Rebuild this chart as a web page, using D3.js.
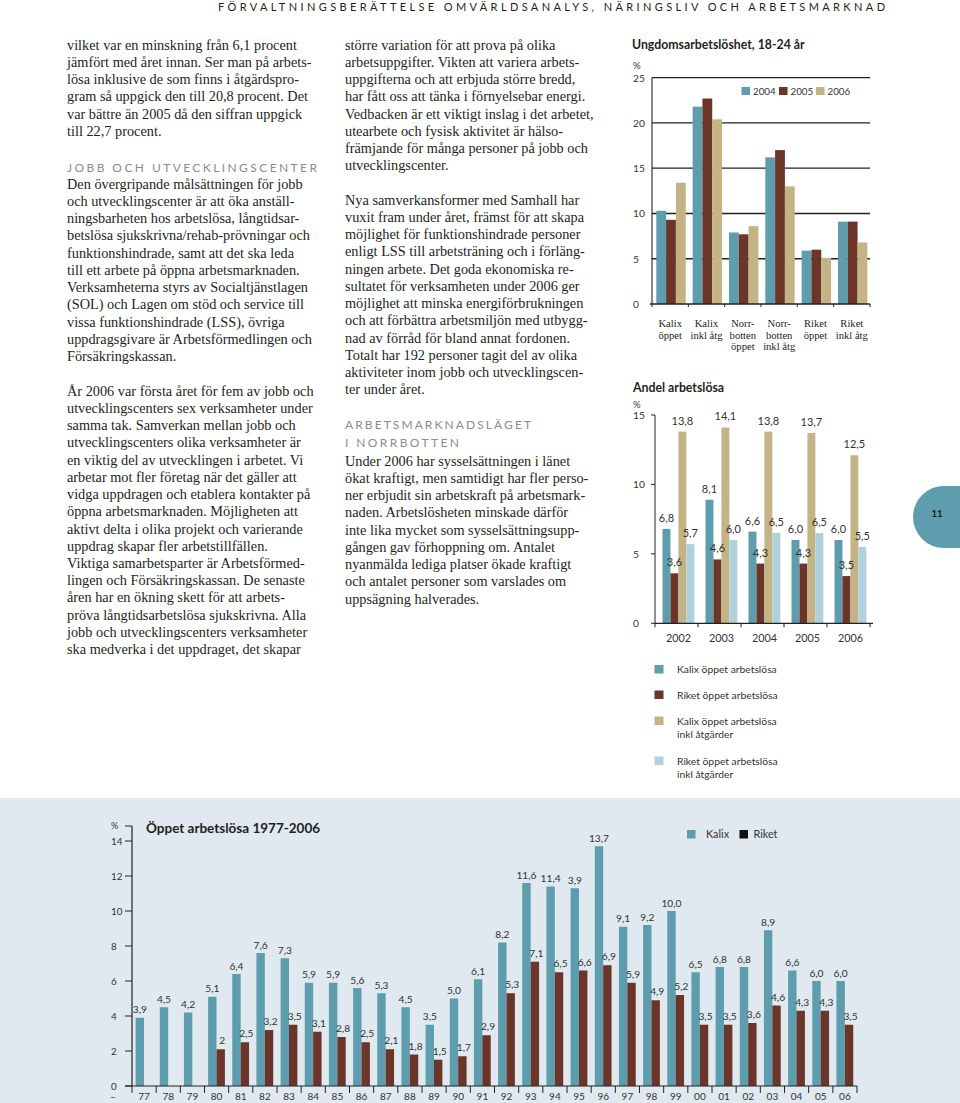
<!DOCTYPE html>
<html><head><meta charset="utf-8">
<script src="https://cdn.jsdelivr.net/npm/d3@7"></script>
<style>body{margin:0;background:#fff}svg{display:block}</style>
</head><body><svg id="c" width="960" height="1103"></svg>
<script>
// ---------- DATA ----------
const youthCats = ["Kalix öppet","Kalix inkl åtg","Norrbotten öppet","Norrbotten inkl åtg","Riket öppet","Riket inkl åtg"];
const youthCatLines = [["Kalix","öppet"],["Kalix","inkl åtg"],["Norr-","botten","öppet"],["Norr-","botten","inkl åtg"],["Riket","öppet"],["Riket","inkl åtg"]];
const youthYears = ["2004","2005","2006"];
const youth2004 = [10.3,21.8,7.9,16.2,5.9,9.1];
const youth2005 = [9.3,22.7,7.7,17.0,6.0,9.1];
const youth2006 = [13.4,20.4,8.6,13.0,5.1,6.8];
const youthTicks = [0,5,10,15,20,25];

const shareYears = ["2002","2003","2004","2005","2006"];
const kalixOpen = [6.8,8.9,6.6,6.0,6.0];
const kalixOpenLabels = ["6,8","8,1","6,6","6,0","6,0"];
const riketOpen = [3.6,4.6,4.3,4.3,3.4];
const riketOpenLabels = ["3,6","4,6","4,3","4,3","3,5"];
const kalixIncl = [13.8,14.1,13.8,13.7,12.1];
const kalixInclLabels = ["13,8","14,1","13,8","13,7","12,5"];
const riketIncl = [5.7,6.0,6.5,6.5,5.5];
const riketInclLabels = ["5,7","6,0","6,5","6,5","5,5"];
const shareTicks = [0,5,10,15];
const shareLegend = [["Kalix öppet arbetslösa"],["Riket öppet arbetslösa"],["Kalix öppet arbetslösa","inkl åtgärder"],["Riket öppet arbetslösa","inkl åtgärder"]];

const histYears = ["77","78","79","80","81","82","83","84","85","86","87","88","89","90","91","92","93","94","95","96","97","98","99","00","01","02","03","04","05","06"];
const histKalix = [3.9,4.5,4.2,5.1,6.4,7.6,7.3,5.9,5.9,5.6,5.3,4.5,3.5,5.0,6.1,8.2,11.6,11.4,11.3,13.7,9.1,9.2,10.0,6.5,6.8,6.8,8.9,6.6,6.0,6.0];
const histKalixLabels = ["3,9","4,5","4,2","5,1","6,4","7,6","7,3","5,9","5,9","5,6","5,3","4,5","3,5","5,0","6,1","8,2","11,6","11,4","3,9","13,7","9,1","9,2","10,0","6,5","6,8","6,8","8,9","6,6","6,0","6,0"];
const histRiket = [null,null,null,2.1,2.5,3.2,3.5,3.1,2.8,2.5,2.1,1.8,1.5,1.7,2.9,5.3,7.1,6.5,6.6,6.9,5.9,4.9,5.2,3.5,3.5,3.6,4.6,4.3,4.3,3.5];
const histRiketLabels = ["","","","2","2,5","3,2","3,5","3,1","2,8","2,5","2,1","1,8","1,5","1,7","2,9","5,3","7,1","6,5","6,6","6,9","5,9","4,9","5,2","3,5","3,5","3,6","4,6","4,3","4,3","3,5"];
const histTicks = [0,2,4,6,8,10,12,14];

// ---------- STYLE ----------
const C = {teal:"#5e9dad", brown:"#6c3529", tan:"#c4b384", light:"#afd1dc", text:"#231f20", axis:"#333"};
const SANS = "Lato, 'Open Sans', sans-serif";
const SERIF = "'Liberation Serif', 'DejaVu Serif', serif";

const svg = d3.select("#c");

// ---------- HEADER ----------
svg.append("text").attr("x",218).attr("y",11).attr("font-family",SANS).attr("font-size",11)
  .attr("fill",C.text).attr("textLength",667).attr("lengthAdjust","spacing")
  .text("FÖRVALTNINGSBERÄTTELSE OMVÄRLDSANALYS, NÄRINGSLIV OCH ARBETSMARKNAD");

// ---------- BODY TEXT ----------
const LH = 17.22;
const blocks = [
 {x:67,y:45,lines:["vilket var en minskning från 6,1 procent","jämfört med året innan. Ser man på arbets-","lösa inklusive de som finns i åtgärdspro-","gram så uppgick den till 20,8 procent. Det","var bättre än 2005 då den siffran uppgick","till 22,7 procent."]},
 {x:67,y:167,head:true,w:250,lines:["JOBB OCH UTVECKLINGSCENTER"]},
 {x:67,y:184,lines:["Den övergripande målsättningen för jobb","och utvecklingscenter är att öka anställ-","ningsbarheten hos arbetslösa, långtidsar-","betslösa sjukskrivna/rehab-prövningar och","funktionshindrade, samt att det ska leda","till ett arbete på öppna arbetsmarknaden.","Verksamheterna styrs av Socialtjänstlagen","(SOL) och Lagen om stöd och service till","vissa funktionshindrade (LSS), övriga","uppdragsgivare är Arbetsförmedlingen och","Försäkringskassan."]},
 {x:67,y:391,lines:["År 2006 var första året för fem av jobb och","utvecklingscenters sex verksamheter under","samma tak. Samverkan mellan jobb och","utvecklingscenters olika verksamheter är","en viktig del av utvecklingen i arbetet. Vi","arbetar mot fler företag när det gäller att","vidga uppdragen och etablera kontakter på","öppna arbetsmarknaden. Möjligheten att","aktivt delta i olika projekt och varierande","uppdrag skapar fler arbetstillfällen.","Viktiga samarbetsparter är Arbetsförmed-","lingen och Försäkringskassan. De senaste","åren har en ökning skett för att arbets-","pröva långtidsarbetslösa sjukskrivna. Alla","jobb och utvecklingscenters verksamheter","ska medverka i det uppdraget, det skapar"]},
 {x:345,y:45,lines:["större variation för att prova på olika","arbetsuppgifter. Vikten att variera arbets-","uppgifterna och att erbjuda större bredd,","har fått oss att tänka i förnyelsebar energi.","Vedbacken är ett viktigt inslag i det arbetet,","utearbete och fysisk aktivitet är hälso-","främjande för många personer på jobb och","utvecklingscenter."]},
 {x:345,y:200,lines:["Nya samverkansformer med Samhall har","vuxit fram under året, främst för att skapa","möjlighet för funktionshindrade personer","enligt LSS till arbetsträning och i förläng-","ningen arbete. Det goda ekonomiska re-","sultatet för verksamheten under 2006 ger","möjlighet att minska energiförbrukningen","och att förbättra arbetsmiljön med utbygg-","nad av förråd för bland annat fordonen.","Totalt har 192 personer tagit del av olika","aktiviteter inom jobb och utvecklingscen-","ter under året."]},
 {x:345,y:424,head:true,w:186,lines:["ARBETSMARKNADSLÄGET"]},
 {x:345,y:442,head:true,w:114,lines:["I NORRBOTTEN"]},
 {x:345,y:461,lines:["Under 2006 har sysselsättningen i länet","ökat kraftigt, men samtidigt har fler perso-","ner erbjudit sin arbetskraft på arbetsmark-","naden. Arbetslösheten minskade därför","inte lika mycket som sysselsättningsupp-","gången gav förhoppning om. Antalet","nyanmälda lediga platser ökade kraftigt","och antalet personer som varslades om","uppsägning halverades."]}
];
blocks.forEach(b=>{
  b.lines.forEach((ln,i)=>{
    const t = svg.append("text").attr("x",b.x).attr("y",b.y+i*LH+4.8).text(ln);
    if(b.head){
      t.attr("font-family",SANS).attr("font-size",12).attr("fill","#8c8c8c")
       .attr("textLength",b.w).attr("lengthAdjust","spacing");
    } else {
      t.attr("font-family",SERIF).attr("font-size",14.3).attr("fill",C.text);
      const w = t.node().getComputedTextLength();
      if (w > 254) t.attr("textLength",254).attr("lengthAdjust","spacingAndGlyphs");
    }
  });
});

// ---------- SIDE TAB ----------
svg.append("path").attr("d","M960,486 L944,486 A31,31 0 0 0 944,548 L960,548 Z").attr("fill",C.teal);
svg.append("text").attr("x",937).attr("y",517).attr("text-anchor","middle").attr("font-family",SANS)
  .attr("font-weight","bold").attr("font-size",9.5).attr("fill","#1a1a1a").text("11");

// ---------- CHART 1: Ungdomsarbetslöshet ----------
{
  const g = svg.append("g");
  g.append("text").attr("x",632).attr("y",49).attr("font-family",SANS).attr("font-weight","bold")
    .attr("font-size",12.3).attr("fill",C.text).text("Ungdomsarbetslöshet, 18-24 år");
  g.append("text").attr("x",633).attr("y",69).attr("font-family",SANS).attr("font-size",9.5).attr("fill",C.axis).text("%");
  const y = d3.scaleLinear().domain([0,25]).range([304,77.7]);
  const x = d3.scaleBand().domain(youthCats).range([652,870]);
  const xs = d3.scaleBand().domain(youthYears).range([4.3,4.3+29.4]);
  g.selectAll("line.grid").data(youthTicks.filter(d=>d>0)).join("line")
    .attr("x1",652).attr("x2",870).attr("y1",d=>y(d)).attr("y2",d=>y(d))
    .attr("stroke","#222").attr("stroke-width",1.3);
  g.append("line").attr("x1",652).attr("x2",652).attr("y1",y(25)).attr("y2",y(0)).attr("stroke","#222").attr("stroke-width",1.1);
  g.selectAll("text.yt").data(youthTicks).join("text")
    .attr("x",633).attr("y",d=>y(d)+4).attr("font-family",SANS).attr("font-size",10.3).attr("fill",C.axis).text(d=>d);
  const series = [youth2004,youth2005,youth2006];
  const cols = [C.teal,C.brown,C.tan];
  series.forEach((s,si)=>{
    g.selectAll(null).data(s).join("rect")
      .attr("x",(d,i)=>x(youthCats[i])+xs(youthYears[si]))
      .attr("width",xs.bandwidth()).attr("y",d=>y(d)).attr("height",d=>y(0)-y(d)).attr("fill",cols[si]);
  });
  g.append("line").attr("x1",650).attr("x2",870).attr("y1",y(0)).attr("y2",y(0)).attr("stroke","#222").attr("stroke-width",1.3);
  const bounds = youthCats.map(c=>x(c)).concat([870]);
  g.selectAll(null).data(bounds).join("line").attr("x1",d=>d).attr("x2",d=>d)
    .attr("y1",y(0)).attr("y2",y(0)+3).attr("stroke","#222");
  youthCatLines.forEach((ls,i)=>{
    ls.forEach((l,j)=>{
      g.append("text").attr("x",x(youthCats[i])+x.bandwidth()/2).attr("y",327+j*11.6)
       .attr("text-anchor","middle").attr("font-family",SERIF).attr("font-size",10.6).attr("fill",C.text).text(l);
    });
  });
  const lx = [741.5,779,816];
  youthYears.forEach((yr,i)=>{
    g.append("rect").attr("x",lx[i]).attr("y",87).attr("width",8.5).attr("height",8).attr("fill",cols[i]);
    g.append("text").attr("x",lx[i]+11.5).attr("y",95).attr("font-family",SANS).attr("font-size",9.8).attr("fill",C.axis).text(yr);
  });
}

// ---------- CHART 2: Andel arbetslösa ----------
{
  const g = svg.append("g");
  g.append("text").attr("x",633).attr("y",392).attr("font-family",SANS).attr("font-weight","bold")
    .attr("font-size",12.3).attr("fill",C.text).text("Andel arbetslösa");
  g.append("text").attr("x",633).attr("y",408).attr("font-family",SANS).attr("font-size",9.5).attr("fill",C.axis).text("%");
  const y = d3.scaleLinear().domain([0,15]).range([623.3,415]);
  const x = d3.scaleBand().domain(shareYears).range([655,870]);
  const keys = ["a","b","c","d"];
  const xs = d3.scaleBand().domain(keys).range([7.5,7.5+31.8]);
  g.append("line").attr("x1",655).attr("x2",655).attr("y1",y(15)).attr("y2",y(0)).attr("stroke","#222");
  g.selectAll(null).data(shareTicks).join("line").attr("x1",651).attr("x2",655)
    .attr("y1",d=>y(d)).attr("y2",d=>y(d)).attr("stroke","#222");
  g.selectAll(null).data(shareTicks).join("text").attr("x",633).attr("y",d=>y(d)+4)
    .attr("font-family",SANS).attr("font-size",10.3).attr("fill",C.axis).text(d=>d);
  const series = [kalixOpen,riketOpen,kalixIncl,riketIncl];
  const labels = [kalixOpenLabels,riketOpenLabels,kalixInclLabels,riketInclLabels];
  const cols = [C.teal,C.brown,C.tan,C.light];
  series.forEach((s,si)=>{
    g.selectAll(null).data(s).join("rect")
      .attr("x",(d,i)=>x(shareYears[i])+xs(keys[si])).attr("width",xs.bandwidth())
      .attr("y",d=>y(d)).attr("height",d=>y(0)-y(d)).attr("fill",cols[si]);
  });
  series.forEach((s,si)=>{
    g.selectAll(null).data(s).join("text")
      .attr("x",(d,i)=>x(shareYears[i])+xs(keys[si])+xs.bandwidth()/2).attr("y",d=>y(d)-7)
      .attr("text-anchor","middle").attr("font-family",SANS).attr("font-size",11).attr("fill",C.axis)
      .text((d,i)=>labels[si][i]);
  });
  g.append("line").attr("x1",655).attr("x2",873).attr("y1",y(0)).attr("y2",y(0)).attr("stroke","#222").attr("stroke-width",1.2);
  const bounds = shareYears.map(c=>x(c)).concat([870]);
  g.selectAll(null).data(bounds).join("line").attr("x1",d=>d).attr("x2",d=>d)
    .attr("y1",y(0)).attr("y2",y(0)+4).attr("stroke","#222");
  g.selectAll(null).data(shareYears).join("text").attr("x",d=>x(d)+x.bandwidth()/2+2).attr("y",642)
    .attr("text-anchor","middle").attr("font-family",SANS).attr("font-size",10.8).attr("fill",C.axis).text(d=>d);
  const ly = [665,690.5,716.5,756.5];
  shareLegend.forEach((ls,i)=>{
    g.append("rect").attr("x",654.5).attr("y",ly[i]).attr("width",9).attr("height",8.5).attr("fill",cols[i]);
    ls.forEach((l,j)=>{
      g.append("text").attr("x",677).attr("y",ly[i]+8+j*13.3).attr("font-family",SANS).attr("font-size",10.3)
       .attr("fill",C.axis).text(l);
    });
  });
}

// ---------- CHART 3: Öppet arbetslösa 1977-2006 ----------
{
  svg.append("rect").attr("x",0).attr("y",798).attr("width",960).attr("height",305).attr("fill","#dfe9ef");
  const g = svg.append("g");
  const y = d3.scaleLinear().domain([0,14]).range([1086,841]);
  const x = d3.scaleBand().domain(histYears).range([132,857]);
  g.append("text").attr("x",146).attr("y",833).attr("font-family",SANS).attr("font-weight","bold")
    .attr("font-size",13.5).attr("fill",C.text).text("Öppet arbetslösa 1977-2006");
  g.append("text").attr("x",111).attr("y",829).attr("font-family",SANS).attr("font-size",9).attr("fill",C.axis).text("%");
  g.append("line").attr("x1",125).attr("x2",132).attr("y1",826).attr("y2",826).attr("stroke","#222");
  g.append("line").attr("x1",132).attr("x2",132).attr("y1",826).attr("y2",y(0)).attr("stroke","#222").attr("stroke-width",1.2);
  g.selectAll(null).data(histTicks).join("line").attr("x1",125).attr("x2",132)
    .attr("y1",d=>y(d)).attr("y2",d=>y(d)).attr("stroke","#222");
  g.selectAll(null).data(histTicks).join("text").attr("x",111).attr("y",d=>y(d)+3.5)
    .attr("font-family",SANS).attr("font-size",9.8).attr("fill",C.axis).text(d=>d);
  const bw = 8.4;
  g.selectAll(null).data(histKalix).join("rect")
    .attr("x",(d,i)=>x(histYears[i])+3.6).attr("width",bw).attr("y",d=>y(d)).attr("height",d=>y(0)-y(d)).attr("fill",C.teal);
  const rk = histRiket.map((v,i)=>({v,i})).filter(d=>d.v!=null);
  g.selectAll(null).data(rk).join("rect")
    .attr("x",d=>x(histYears[d.i])+3.6+bw).attr("width",bw).attr("y",d=>y(d.v)).attr("height",d=>y(0)-y(d.v)).attr("fill",C.brown);
  g.selectAll(null).data(histKalix).join("text")
    .attr("x",(d,i)=>x(histYears[i])+3.6+bw/2).attr("y",d=>y(d)-4.5).attr("text-anchor","middle")
    .attr("font-family",SANS).attr("font-size",10.2).attr("fill",C.axis).text((d,i)=>histKalixLabels[i]);
  g.selectAll(null).data(rk).join("text")
    .attr("x",d=>x(histYears[d.i])+3.6+bw*1.5+1.5).attr("y",d=>y(d.v)-5).attr("text-anchor","middle")
    .attr("font-family",SANS).attr("font-size",10.2).attr("fill",C.axis).text(d=>histRiketLabels[d.i]);
  g.append("line").attr("x1",125).attr("x2",857).attr("y1",y(0)).attr("y2",y(0)).attr("stroke","#222").attr("stroke-width",1.2);
  const bounds = histYears.map(c=>x(c)).concat([857]);
  g.selectAll(null).data(bounds).join("line").attr("x1",d=>d).attr("x2",d=>d)
    .attr("y1",y(0)).attr("y2",y(0)+7).attr("stroke","#222");
  g.selectAll(null).data(histYears).join("text").attr("x",d=>x(d)+x.bandwidth()/2).attr("y",1100)
    .attr("text-anchor","middle").attr("font-family",SANS).attr("font-size",10).attr("fill",C.axis).text(d=>d);
  g.append("text").attr("x",110).attr("y",1100).attr("font-family",SANS).attr("font-size",10).attr("fill",C.axis).text("–");
  g.append("rect").attr("x",687).attr("y",830).attr("width",8.5).attr("height",8.5).attr("fill",C.teal);
  g.append("text").attr("x",706).attr("y",838).attr("font-family",SANS).attr("font-size",10.8).attr("fill",C.axis).text("Kalix");
  g.append("rect").attr("x",739.5).attr("y",830).attr("width",8.5).attr("height",8.5).attr("fill","#111");
  g.append("text").attr("x",753.5).attr("y",838).attr("font-family",SANS).attr("font-size",10.8).attr("fill",C.axis).text("Riket");
}
</script></body></html>
